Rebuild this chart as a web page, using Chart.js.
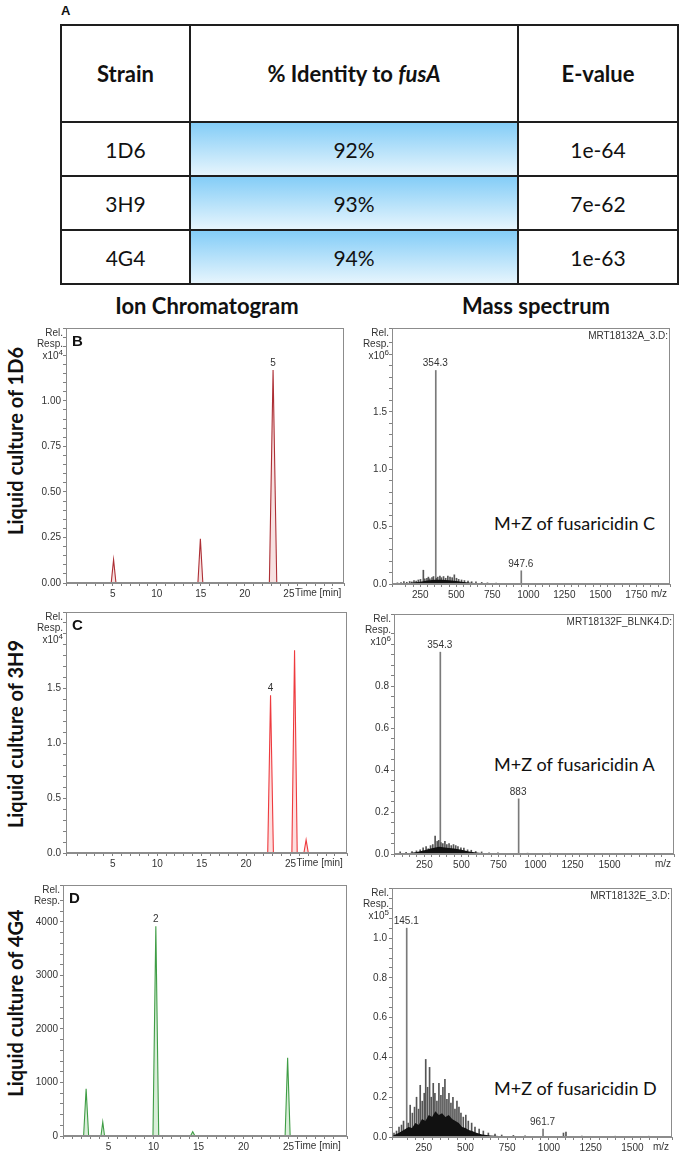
<!DOCTYPE html>
<html>
<head>
<meta charset="utf-8">
<script src="https://cdn.jsdelivr.net/npm/chart.js@4.4.1/dist/chart.umd.min.js"></script>
<style>
  html, body { margin: 0; padding: 0; background: #fff; }
  #fig { position: relative; width: 679px; height: 1157px; overflow: hidden; background: #fff;
         font-family: Lato, "Open Sans", sans-serif; color: #111; }
  #fig canvas { position: absolute; }
  .tag { position: absolute; left: 61px; top: 3px; font: bold 13px "Liberation Sans", Arial, sans-serif; }
  #tbl { position: absolute; left: 60px; top: 24px; border-collapse: collapse; table-layout: fixed; }
  #tbl th, #tbl td { border: 2px solid #1e1e1e; text-align: center; padding: 0; }
  #tbl th { height: 95px; font-weight: bold; font-size: 22px; }
  #tbl td { height: 52px; font-weight: normal; font-size: 21px; }
  #tbl td.id { background: linear-gradient(to bottom, #84cdf7, #e6f5fd); }
  .head { position: absolute; top: 305px; transform: translate(-50%, -50%); font-weight: bold; font-size: 22px; white-space: nowrap; }
  .side { position: absolute; left: 15px; transform: translate(-50%, -50%) rotate(-90deg); font-weight: bold; font-size: 20px; white-space: nowrap; }
  .note { position: absolute; left: 494px; transform: translateY(-50%); font-size: 18px; white-space: nowrap; }
</style>
</head>
<body>
<div id="fig">
  <div class="tag">A</div>
  <table id="tbl">
    <colgroup><col style="width:129px"><col style="width:328px"><col style="width:160px"></colgroup>
    <thead><tr><th>Strain</th><th>% Identity to <i>fusA</i></th><th>E-value</th></tr></thead>
    <tbody id="rows"></tbody>
  </table>
  <div class="head" style="left:207px">Ion Chromatogram</div>
  <div class="head" style="left:536px">Mass spectrum</div>
</div>
<script>
// table A
const strains = ["1D6", "3H9", "4G4"];
const identity = ["92%", "93%", "94%"];
const eValues = ["1e-64", "7e-62", "1e-63"];
const fusaricidins = ["C", "A", "D"];

// ion chromatograms, response x10^4 (B, C) and plain counts (D)
const timeB = [-0.3, 4.83, 5.1, 5.37, 14.67, 14.95, 15.23, 22.78, 23.2, 23.62, 31.25];
const respB = [0, 0, 0.128, 0, 0, 0.243, 0, 0, 1.17, 0, 0];
const cmpdTimeB = [23.2];
const cmpdNameB = ["5"];

const timeC = [-0.26, 22.43, 22.75, 23.07, 25.15, 25.45, 25.75, 26.5, 26.75, 27.0, 31.35];
const respC = [0, 0, 1.44, 0, 0, 1.85, 0, 0, 0.12, 0, 0];
const cmpdTimeC = [22.75];
const cmpdNameC = ["4"];

const timeD = [-0.07, 2.22, 2.5, 2.78, 4.15, 4.35, 4.55, 9.93, 10.25, 10.57, 14.1, 14.35, 14.6, 24.62, 24.9, 25.18, 31.5];
const respD = [0, 0, 880, 0, 0, 260, 0, 0, 3920, 0, 0, 80, 0, 0, 1460, 0, 0];
const cmpdTimeD = [10.25];
const cmpdNameD = ["2"];

// mass spectra: labelled ions, small ions, dense low-level band
const majorMzB = [354.3, 947.6];
const majorIntB = [1.86, 0.115];
const noiseMzB = [70, 95, 120, 140, 160, 180, 195, 210, 225, 240, 255, 275, 285, 300, 310, 320, 335, 345, 365, 375,
                  390, 400, 415, 430, 445, 460, 475, 490, 505, 520, 540, 560, 585, 610, 640, 680, 720, 780, 850, 1010,
                  1100, 1250, 1400, 1550, 1700, 1850];
const noiseIntB = [0.006, 0.01, 0.012, 0.02, 0.015, 0.022, 0.018, 0.03, 0.025, 0.035, 0.04, 0.12, 0.045, 0.05, 0.06, 0.045, 0.055, 0.065, 0.05, 0.06,
                   0.07, 0.055, 0.065, 0.05, 0.07, 0.06, 0.055, 0.08, 0.05, 0.04, 0.035, 0.03, 0.025, 0.02, 0.018, 0.014, 0.01, 0.008, 0.006, 0.006,
                   0.005, 0.004, 0.005, 0.003, 0.004, 0.003];
const bandMzB = [54, 150, 200, 250, 300, 350, 400, 450, 500, 550, 600, 650, 700, 800, 1983];
const bandIntB = [0.002, 0.006, 0.012, 0.02, 0.03, 0.038, 0.036, 0.032, 0.026, 0.018, 0.011, 0.007, 0.004, 0.002, 0.001];

const majorMzC = [354.3, 883];
const majorIntC = [0.962, 0.263];
const noiseMzC = [90, 130, 170, 200, 225, 245, 265, 280, 295, 310, 326, 340, 350, 365, 378, 392, 405, 420, 435, 450,
                  465, 480, 500, 520, 545, 570, 600, 640, 690, 750, 950, 1100, 1300, 1500, 1700];
const noiseIntC = [0.01, 0.008, 0.012, 0.015, 0.02, 0.03, 0.035, 0.025, 0.04, 0.045, 0.085, 0.06, 0.065, 0.055, 0.05, 0.06, 0.045, 0.05, 0.04, 0.045,
                   0.04, 0.035, 0.03, 0.028, 0.02, 0.018, 0.012, 0.01, 0.006, 0.005, 0.004, 0.004, 0.003, 0.003, 0.003];
const bandMzC = [45, 150, 200, 250, 300, 350, 400, 450, 500, 550, 600, 650, 750, 1935];
const bandIntC = [0.002, 0.005, 0.01, 0.018, 0.028, 0.034, 0.03, 0.026, 0.02, 0.012, 0.007, 0.004, 0.002, 0.001];

const majorMzD = [145.1, 961.7];
const majorIntD = [1.05, 0.04];
const noiseMzD = [62, 75, 90, 105, 120, 132, 160, 172, 185, 198, 210, 222, 232, 244, 256, 265, 276, 288, 298, 310,
                  320, 332, 344, 356, 368, 380, 392, 404, 416, 428, 440, 452, 464, 476, 490, 505, 520, 540, 560, 585,
                  610, 640, 680, 720, 790, 860, 1090, 1105, 1200, 1400, 1600];
const noiseIntD = [0.12, 0.02, 0.03, 0.05, 0.06, 0.08, 0.07, 0.16, 0.12, 0.15, 0.2, 0.14, 0.26, 0.18, 0.22, 0.39, 0.25, 0.35, 0.2, 0.27,
                   0.22, 0.18, 0.27, 0.21, 0.25, 0.29, 0.19, 0.22, 0.17, 0.2, 0.14, 0.18, 0.15, 0.12, 0.1, 0.11, 0.08, 0.07, 0.05, 0.04,
                   0.03, 0.02, 0.015, 0.01, 0.008, 0.006, 0.02, 0.025, 0.005, 0.004, 0.004];
const bandMzD = [60, 80, 100, 120, 140, 160, 180, 200, 220, 240, 260, 280, 300, 320, 340, 360, 380, 400, 420, 440,
                 460, 480, 500, 520, 540, 560, 580, 600, 650, 700, 750, 800, 900, 1737];
const bandIntD = [0.004, 0.012, 0.02, 0.03, 0.04, 0.05, 0.045, 0.07, 0.06, 0.09, 0.08, 0.11, 0.1, 0.13, 0.11, 0.12, 0.1, 0.11, 0.09, 0.08,
                  0.07, 0.05, 0.045, 0.035, 0.03, 0.022, 0.018, 0.012, 0.008, 0.005, 0.004, 0.003, 0.002, 0.001];

const fig = document.getElementById("fig");
const SANS = '"Liberation Sans", Arial, sans-serif';
const YW = 48, XH = 20, PT = 8, PR = 4;

Chart.defaults.font.family = SANS;
Chart.defaults.font.size = 10;
Chart.defaults.color = "#333";

// table rows
const rows = document.getElementById("rows");
strains.forEach((s, i) => {
    const tr = document.createElement("tr");
    tr.innerHTML = `<td>${s}</td><td class="id">${identity[i]}</td><td>${eValues[i]}</td>`;
    rows.appendChild(tr);
});

function addText(cls, text, css) {
    const d = document.createElement("div");
    d.className = cls;
    d.textContent = text;
    Object.assign(d.style, css);
    fig.appendChild(d);
}

[441, 734, 1003].forEach((cy, i) => addText("side", "Liquid culture of " + strains[i], { top: cy + "px" }));
[523, 764, 1088].forEach((cy, i) => addText("note", "M+Z of fusaricidin " + fusaricidins[i], { top: cy + "px" }));

const pts = (xs, ys) => xs.map((v, i) => ({ x: v, y: ys[i] }));

function isLabel(v, every, maxv) {
    return v >= -1e-9 && v <= maxv + 1e-9 && Math.abs(v / every - Math.round(v / every)) < 1e-6;
}

function axis(min, max, step, every, labelMax, digits, fit) {
    return {
        type: "linear", min: min, max: max, offset: false,
        grid: { display: true, drawOnChartArea: false, drawTicks: true, tickLength: 3, color: "#808080", offset: false },
        border: { display: true, color: "#8c8c8c" },
        ticks: {
            stepSize: step, autoSkip: false, maxRotation: 0, minRotation: 0, padding: 2,
            callback: v => (isLabel(v, every, labelMax) ? v.toFixed(digits) : ""),
        },
        afterFit: fit,
    };
}
const fitX = s => { s.height = XH; };
const fitY = s => { s.width = YW; };

// frame, captions and peak labels
const figDecor = {
    id: "figDecor",
    afterDraw(chart, args, o) {
        const { ctx, chartArea: a, scales } = chart;
        const x = scales.x, y = scales.y;
        ctx.save();
        ctx.strokeStyle = "#8c8c8c";
        ctx.lineWidth = 1;
        ctx.strokeRect(a.left + 0.5, a.top + 0.5, a.right - a.left - 1, a.bottom - a.top - 1);

        ctx.fillStyle = "#333";
        ctx.font = "10px " + SANS;
        ctx.textAlign = "right";
        ctx.textBaseline = "middle";
        ctx.fillText("Rel.", a.left - 3, a.top + 5);
        ctx.fillText("Resp.", a.left - 3, a.top + 16);
        if (o.mag) {
            ctx.font = "8px " + SANS;
            const sw = ctx.measureText(o.mag).width;
            ctx.fillText(o.mag, a.left - 3, a.top + 25);
            ctx.font = "10px " + SANS;
            ctx.fillText("x10", a.left - 3 - sw, a.top + 28);
        }
        if (o.file) {
            ctx.fillText(o.file, a.right - 2, a.top + 8);
        }

        ctx.textBaseline = "top";
        if (o.unitAt != null) {
            ctx.textAlign = "left";
            ctx.fillText(o.unit, x.getPixelForValue(o.unitAt) + 6, a.bottom + 5);
        } else {
            ctx.textAlign = "right";
            ctx.fillText(o.unit, a.right - 3, a.bottom + 5);
        }

        ctx.textAlign = "center";
        ctx.textBaseline = "bottom";
        (o.peaks || []).forEach(p => {
            ctx.fillText(p.text, x.getPixelForValue(p.x), y.getPixelForValue(p.y) - 2);
        });

        if (o.letter) {
            ctx.font = "bold 15px " + SANS;
            ctx.fillStyle = "#111";
            ctx.textAlign = "left";
            ctx.textBaseline = "middle";
            ctx.fillText(o.letter, a.left + 6, a.top + 14);
        }
        ctx.restore();
    },
};
Chart.register(figDecor);

function addCanvas(r) {
    const c = document.createElement("canvas");
    const w = r.r - r.l + YW + PR, h = r.b - r.t + PT + XH;
    c.width = w;
    c.height = h;
    c.style.left = (r.l - YW) + "px";
    c.style.top = (r.t - PT) + "px";
    c.style.width = w + "px";
    c.style.height = h + "px";
    fig.appendChild(c);
    return c;
}

const baseOptions = () => ({
    animation: false,
    responsive: false,
    events: [],
    layout: { padding: { top: PT, right: PR, left: 0, bottom: 0 } },
});

function chromatogram(rect, times, resp, cTimes, cNames, look) {
    const peaks = cTimes.map((t, i) => ({ x: t, y: resp[times.indexOf(t)], text: cNames[i] }));
    new Chart(addCanvas(rect), {
        type: "line",
        data: {
            datasets: [{
                data: pts(times, resp),
                borderColor: look.line, borderWidth: 1.1,
                backgroundColor: look.fill, fill: "origin",
                pointRadius: 0, tension: 0,
            }],
        },
        options: Object.assign(baseOptions(), {
            plugins: {
                legend: { display: false }, tooltip: { enabled: false },
                figDecor: { letter: look.letter, mag: look.mag, unit: "Time [min]", unitAt: 25, peaks: peaks },
            },
            scales: {
                x: axis(look.xMin, look.xMax, 1, 5, 25, 0, fitX),
                y: axis(0, look.yMax, look.yStep, look.yEvery, look.yLabelMax, look.yDigits, fitY),
            },
        }),
    });
}

function spectrum(rect, majorMz, majorInt, noiseMz, noiseInt, bandMz, bandInt, look) {
    const peaks = majorMz.map((m, i) => ({ x: m, y: majorInt[i], text: String(m) }));
    new Chart(addCanvas(rect), {
        type: "bar",
        data: {
            datasets: [
                { type: "line", data: pts(bandMz, bandInt), borderColor: "transparent", borderWidth: 0,
                  backgroundColor: "#111", fill: "origin", pointRadius: 0, tension: 0, order: 0 },
                { data: pts(noiseMz, noiseInt), backgroundColor: "#555", barThickness: 1, order: 1 },
                { data: pts(majorMz, majorInt), backgroundColor: "#7a7a7a", barThickness: 1, order: 2 },
            ],
        },
        options: Object.assign(baseOptions(), {
            plugins: {
                legend: { display: false }, tooltip: { enabled: false },
                figDecor: { mag: look.mag, file: look.file, unit: "m/z", unitAt: null, peaks: peaks },
            },
            scales: {
                x: axis(look.xMin, look.xMax, 50, 250, look.xLabelMax, 0, fitX),
                y: axis(0, look.yMax, look.yStep, look.yEvery, look.yLabelMax, 1, fitY),
            },
        }),
    });
}

chromatogram({ l: 66, t: 328, r: 344, b: 583 }, timeB, respB, cmpdTimeB, cmpdNameB, {
    letter: "B", mag: "4", line: "#ad2f35", fill: "rgba(232,170,170,0.35)",
    xMin: -0.3, xMax: 31.25, yMax: 1.40, yStep: 0.05, yEvery: 0.25, yLabelMax: 1.0, yDigits: 2,
});
chromatogram({ l: 66, t: 612, r: 347, b: 853 }, timeC, respC, cmpdTimeC, cmpdNameC, {
    letter: "C", mag: "4", line: "#ee3a3e", fill: "rgba(250,185,185,0.45)",
    xMin: -0.26, xMax: 31.35, yMax: 2.20, yStep: 0.1, yEvery: 0.5, yLabelMax: 1.5, yDigits: 1,
});
chromatogram({ l: 63, t: 885, r: 347, b: 1136 }, timeD, respD, cmpdTimeD, cmpdNameD, {
    letter: "D", mag: null, line: "#3f9d45", fill: "rgba(160,212,160,0.4)",
    xMin: -0.07, xMax: 31.5, yMax: 4690, yStep: 200, yEvery: 1000, yLabelMax: 4000, yDigits: 0,
});

spectrum({ l: 392, t: 328, r: 670, b: 584 }, majorMzB, majorIntB, noiseMzB, noiseIntB, bandMzB, bandIntB, {
    mag: "6", file: "MRT18132A_3.D:", xMin: 54, xMax: 1983, xLabelMax: 1750, yMax: 2.23, yStep: 0.1, yEvery: 0.5, yLabelMax: 1.5,
});
spectrum({ l: 394, t: 614, r: 674, b: 854 }, majorMzC, majorIntC, noiseMzC, noiseIntC, bandMzC, bandIntC, {
    mag: "6", file: "MRT18132F_BLNK4.D:", xMin: 45, xMax: 1935, xLabelMax: 1500, yMax: 1.144, yStep: 0.05, yEvery: 0.2, yLabelMax: 0.8,
});
spectrum({ l: 392, t: 888, r: 672, b: 1137 }, majorMzD, majorIntD, noiseMzD, noiseIntD, bandMzD, bandIntD, {
    mag: "5", file: "MRT18132E_3.D:", xMin: 60, xMax: 1737, xLabelMax: 1500, yMax: 1.252, yStep: 0.05, yEvery: 0.2, yLabelMax: 1.0,
});
</script>
</body>
</html>
